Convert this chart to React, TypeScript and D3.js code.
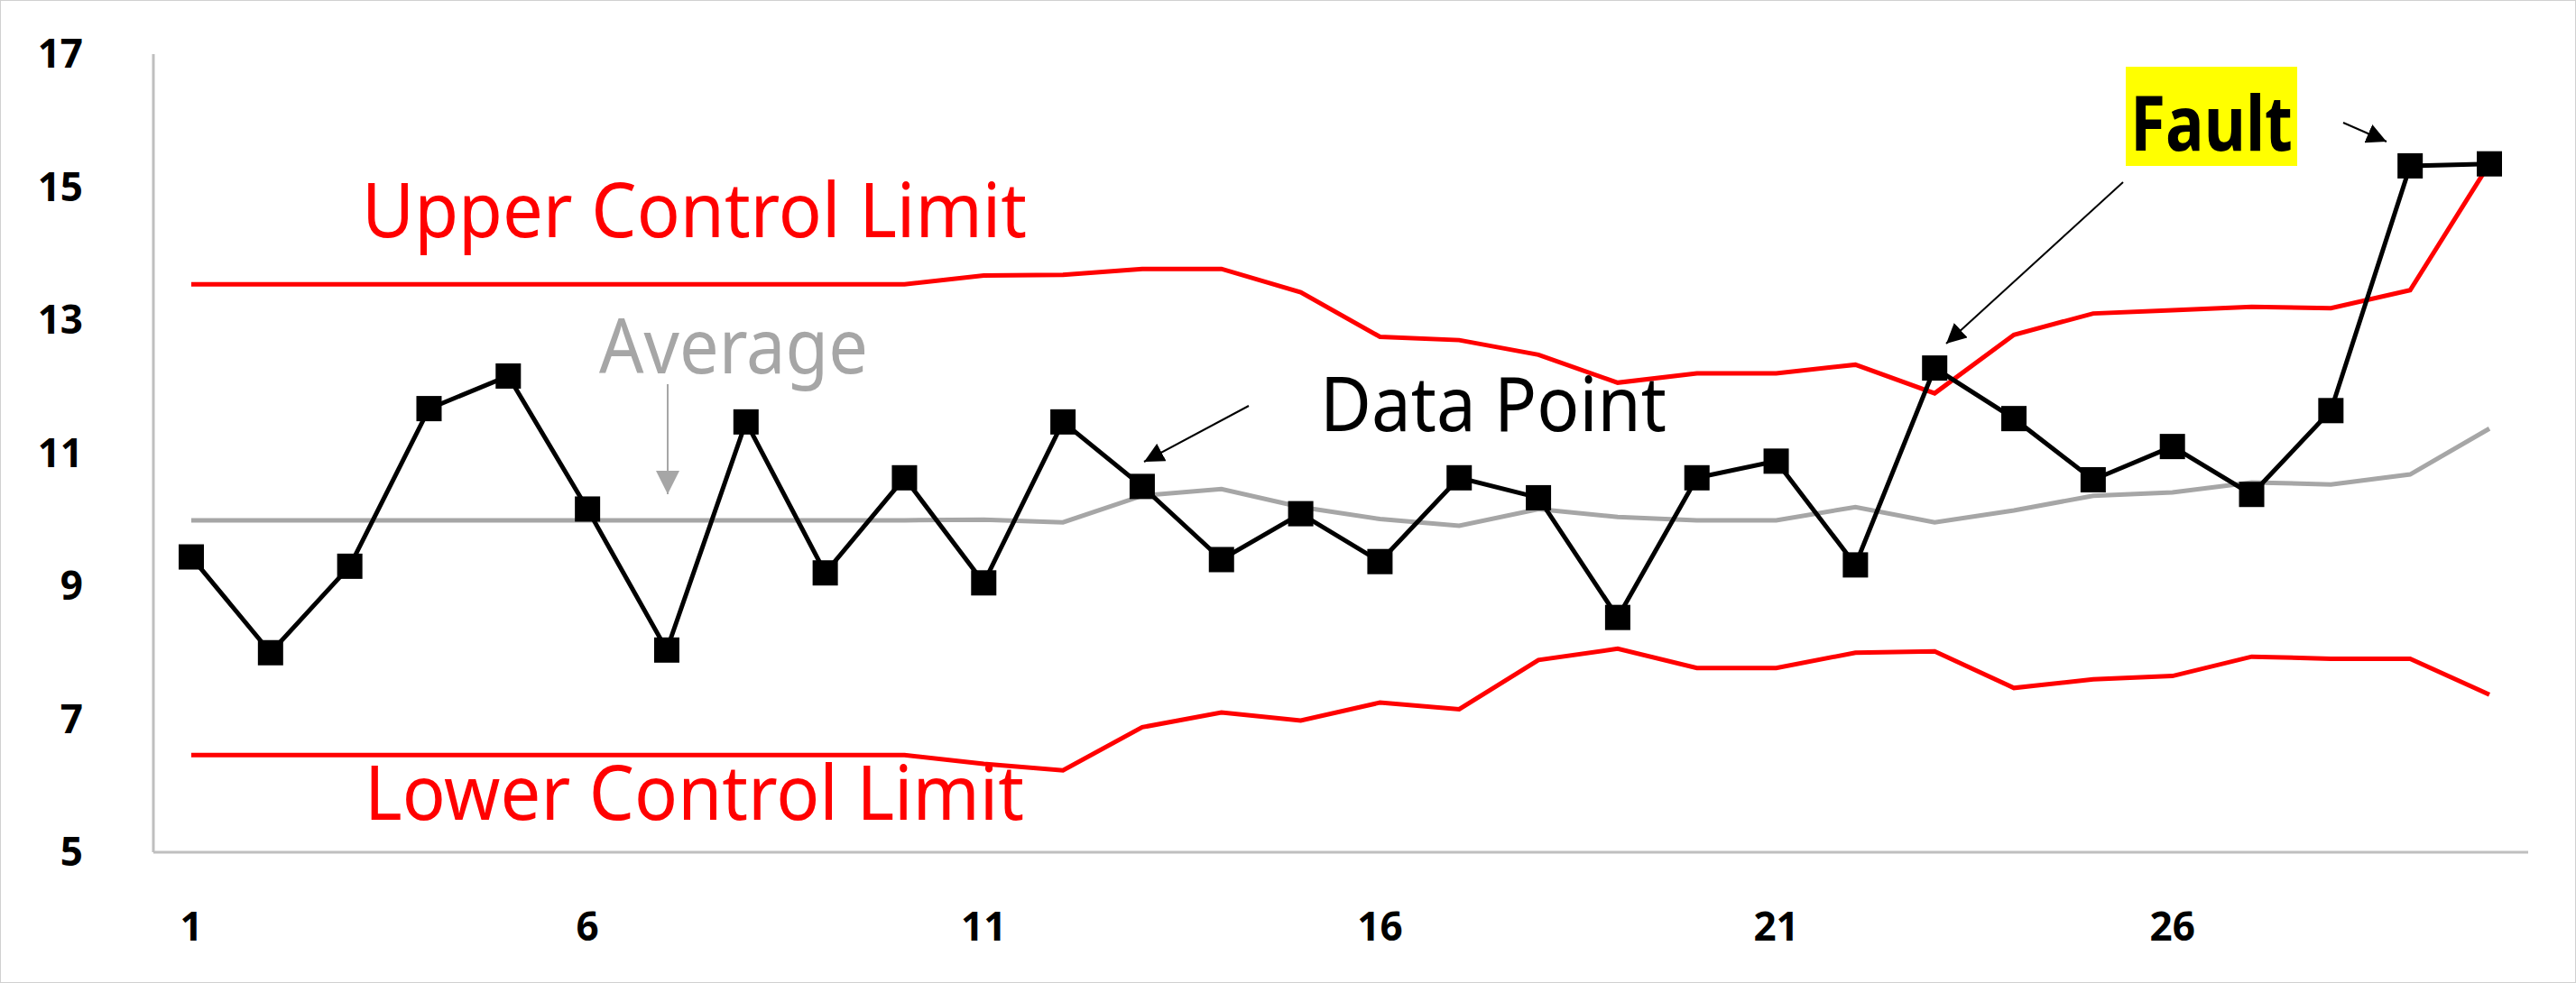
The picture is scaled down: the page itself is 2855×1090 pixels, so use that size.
import React from 'react';
import * as d3 from 'd3';

const samples = d3.range(1, 31);
const dataPoints = [9.44, 8.0, 9.3, 11.67, 12.16, 10.16, 8.04, 11.47, 9.2, 10.63, 9.05, 11.47, 10.5, 9.4, 10.09, 9.37, 10.63, 10.33, 8.53, 10.63, 10.88, 9.32, 12.28, 11.52, 10.6, 11.1, 10.38, 11.64, 15.32, 15.35];
const upperLimit = [13.54, 13.54, 13.54, 13.54, 13.54, 13.54, 13.54, 13.54, 13.54, 13.54, 13.67, 13.68, 13.77, 13.77, 13.42, 12.75, 12.7, 12.48, 12.06, 12.2, 12.2, 12.33, 11.9, 12.78, 13.1, 13.15, 13.2, 13.18, 13.45, 15.35];
const average = [9.99, 9.99, 9.99, 9.99, 9.99, 9.99, 9.99, 9.99, 9.99, 9.99, 10.0, 9.96, 10.36, 10.46, 10.19, 10.01, 9.91, 10.16, 10.04, 9.99, 9.99, 10.19, 9.96, 10.14, 10.36, 10.41, 10.56, 10.53, 10.68, 11.37];
const lowerLimit = [6.46, 6.46, 6.46, 6.46, 6.46, 6.46, 6.46, 6.46, 6.46, 6.46, 6.33, 6.23, 6.88, 7.1, 6.98, 7.25, 7.15, 7.89, 8.06, 7.77, 7.77, 8.0, 8.02, 7.47, 7.6, 7.65, 7.94, 7.91, 7.91, 7.37];
const yTicks = [5, 7, 9, 11, 13, 15, 17];
const xTicks = [1, 6, 11, 16, 21, 26];

const W = 2855, H = 1090;
const x = d3.scaleLinear().domain([1, 30]).range([212, 2759]);
const y = d3.scaleLinear().domain([5, 17]).range([945, 60]);
const line = d3.line<number>().x((d, i) => x(samples[i])).y(d => y(d));
const font = '"Noto Sans", "DejaVu Sans", sans-serif';

export default function App() {
  return (
    <svg width={W} height={H} style={{ position: 'absolute', left: 0, top: 0, background: '#fff' }} fontFamily={font}>
      <defs>
        <marker id="ah" viewBox="0 0 10 10" refX="10" refY="5" markerWidth="22" markerHeight="22" markerUnits="userSpaceOnUse" orient="auto">
          <path d="M0,0 L10,5 L0,10 z" fill="#000" />
        </marker>
        <marker id="ahg" viewBox="0 0 10 10" refX="10" refY="5" markerWidth="26" markerHeight="26" markerUnits="userSpaceOnUse" orient="auto">
          <path d="M0,0 L10,5 L0,10 z" fill="#A6A6A6" />
        </marker>
      </defs>
      <rect x={0.5} y={0.5} width={W - 1} height={H - 1} fill="none" stroke="#d0d0d0" />
      {/* axes */}
      <line x1={170} x2={170} y1={60} y2={945} stroke="#bfbfbf" strokeWidth={3} />
      <line x1={170} x2={2802} y1={945} y2={945} stroke="#bfbfbf" strokeWidth={3} />
      {yTicks.map(t => (
        <text key={t} x={92} y={y(t)} dy="0.35em" textAnchor="end" fontSize={44} fontWeight="bold">{t}</text>
      ))}
      {xTicks.map(t => (
        <text key={t} x={x(t)} y={1043} textAnchor="middle" fontSize={44} fontWeight="bold">{t}</text>
      ))}
      {/* series */}
      <path d={line(average)!} fill="none" stroke="#A6A6A6" strokeWidth={5} />
      <path d={line(upperLimit)!} fill="none" stroke="#FF0000" strokeWidth={5} />
      <path d={line(lowerLimit)!} fill="none" stroke="#FF0000" strokeWidth={5} />
      <path d={line(dataPoints)!} fill="none" stroke="#000" strokeWidth={5} />
      {dataPoints.map((d, i) => (
        <rect key={i} x={x(samples[i]) - 14} y={y(d) - 14} width={28} height={28} fill="#000" />
      ))}
      {/* annotations */}
      <text x={401} y={263} fontSize={84} fill="#FF0000" textLength={737} lengthAdjust="spacingAndGlyphs">Upper Control Limit</text>
      <text x={404} y={909} fontSize={84} fill="#FF0000" textLength={731} lengthAdjust="spacingAndGlyphs">Lower Control Limit</text>
      <text x={664} y={414} fontSize={84} fill="#A6A6A6" textLength={298} lengthAdjust="spacingAndGlyphs">Average</text>
      <line x1={740} y1={426} x2={740} y2={548} stroke="#A6A6A6" strokeWidth={2} markerEnd="url(#ahg)" />
      <text x={1463} y={478} fontSize={84} fill="#000" textLength={384} lengthAdjust="spacingAndGlyphs">Data Point</text>
      <line x1={1384} y1={450} x2={1268} y2={512} stroke="#000" strokeWidth={2} markerEnd="url(#ah)" />
      <rect x={2356} y={74} width={190} height={110} fill="#FFFF00" />
      <text x={2361} y={167} fontSize={84} fontWeight="bold" fill="#000" textLength={180} lengthAdjust="spacingAndGlyphs">Fault</text>
      <line x1={2353} y1={202} x2={2157} y2={381} stroke="#000" strokeWidth={2} markerEnd="url(#ah)" />
      <line x1={2597} y1={136} x2={2645} y2={157} stroke="#000" strokeWidth={2} markerEnd="url(#ah)" />
    </svg>
  );
}
